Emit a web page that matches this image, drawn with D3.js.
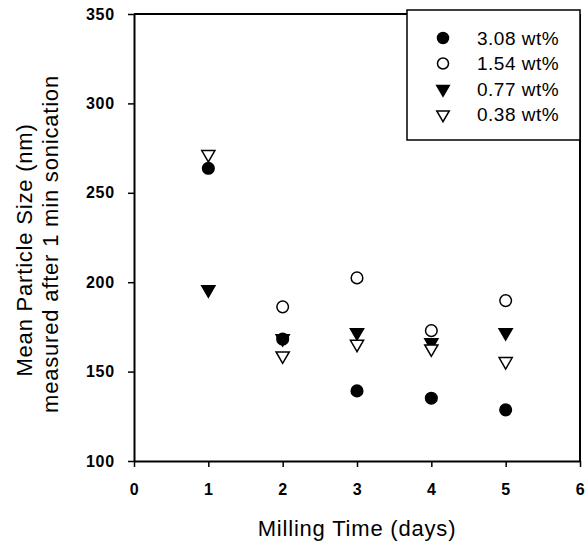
<!DOCTYPE html>
<html>
<head>
<meta charset="utf-8">
<script src="https://cdn.jsdelivr.net/npm/d3@7"></script>
<style>
body { margin: 0; background: #fff; }
text { font-family: "Liberation Sans", Arial, sans-serif; }
</style>
</head>
<body>
<div id="chart"></div>
<script>
// milling time (days)
var days = [1, 2, 3, 4, 5];
var labels = ["3.08 wt%", "1.54 wt%", "0.77 wt%", "0.38 wt%"];
var s308 = [263.7, 168.2, 139.2, 135.1, 128.6];
var s154 = [null, 186.2, 202.4, 172.9, 189.7];
var s077 = [195.9, 168.5, 171.9, 166.3, 171.9];
var s038 = [271.5, 158.9, 165.4, 162.8, 155.7];
var xTicks = [0, 1, 2, 3, 4, 5, 6];
var yTicks = [100, 150, 200, 250, 300, 350];

var series = [
    {name: labels[0], values: s308, shape: "circle", fill: "#000"},
    {name: labels[1], values: s154, shape: "circle", fill: "#fff"},
    {name: labels[2], values: s077, shape: "tri", fill: "#000"},
    {name: labels[3], values: s038, shape: "tri", fill: "#fff"}
];

var width = 585, height = 549;
var margin = {top: 14, left: 134};
var w = 580 - margin.left, h = 461 - margin.top;

var svg = d3.select("#chart").append("svg").attr("width", width).attr("height", height);
var g = svg.append("g").attr("transform", "translate(" + margin.left + "," + margin.top + ")");

var x = d3.scaleLinear().domain([0, 6]).range([0, w]);
var y = d3.scaleLinear().domain([100, 350]).range([h, 0]);

var xAxis = g.append("g").attr("transform", "translate(0," + h + ")")
    .call(d3.axisBottom(x).tickValues(xTicks).tickFormat(d3.format("d")).tickSize(6).tickSizeOuter(0).tickPadding(17));
var yAxis = g.append("g")
    .call(d3.axisLeft(y).tickValues(yTicks).tickFormat(d3.format("d")).tickSize(6).tickSizeOuter(0).tickPadding(13));
[xAxis, yAxis].forEach(function(a) {
    a.select(".domain").attr("stroke", "#000").attr("stroke-width", 2);
    a.selectAll(".tick line").attr("stroke", "#000").attr("stroke-width", 1.5);
    a.selectAll(".tick text").attr("fill", "#000").style("font-size", "16px").style("font-weight", "bold")
        .style("letter-spacing", "0.8px")
        .style("font-family", "'Liberation Sans', Arial, sans-serif");
});
// frame top and right
g.append("line").attr("x1", 0).attr("x2", w).attr("y1", 0).attr("y2", 0).attr("stroke", "#000").attr("stroke-width", 2);
g.append("line").attr("x1", w).attr("x2", w).attr("y1", 0).attr("y2", h).attr("stroke", "#000").attr("stroke-width", 2);

var tri = d3.symbol().type(d3.symbolTriangle).size(75);

function drawMark(sel, s, cx, cy, k) {
    if (s.shape === "circle") {
        sel.append("circle").attr("cx", cx).attr("cy", cy).attr("r", 5.8 * k)
            .attr("fill", s.fill).attr("stroke", "#000").attr("stroke-width", 1.5);
    } else {
        sel.append("path").attr("d", tri)
            .attr("transform", "translate(" + cx + "," + cy + ") rotate(180) scale(" + k + ")")
            .attr("fill", s.fill).attr("stroke", "#000").attr("stroke-width", 1.5 / k);
    }
}

series.forEach(function(s) {
    s.values.forEach(function(v, i) {
        if (v === null) return;
        drawMark(g, s, x(days[i]), y(v), 1);
    });
});

// legend
var lg = svg.append("g");
lg.append("rect").attr("x", 407).attr("y", 10).attr("width", 173).attr("height", 130)
    .attr("fill", "#fff").attr("stroke", "#000").attr("stroke-width", 1.5);
series.forEach(function(s, i) {
    var ly = 38 + i * 25.5;
    drawMark(lg, s, 443, ly, 0.95);
    lg.append("text").attr("x", 477).attr("y", ly).attr("dy", "0.35em")
        .style("font-size", "19px").style("letter-spacing", "0.5px").text(s.name);
});

// axis titles
svg.append("text").attr("transform", "translate(32,250) rotate(-90)")
    .attr("text-anchor", "middle").style("font-size", "22px").style("letter-spacing", "0.8px")
    .text("Mean Particle Size (nm)");
svg.append("text").attr("transform", "translate(58,244) rotate(-90)")
    .attr("text-anchor", "middle").style("font-size", "22px").style("letter-spacing", "0.8px")
    .text("measured after 1 min sonication");
svg.append("text").attr("x", margin.left + w / 2).attr("y", 536)
    .attr("text-anchor", "middle").style("font-size", "22px").style("letter-spacing", "0.8px")
    .text("Milling Time (days)");
</script>
</body>
</html>
